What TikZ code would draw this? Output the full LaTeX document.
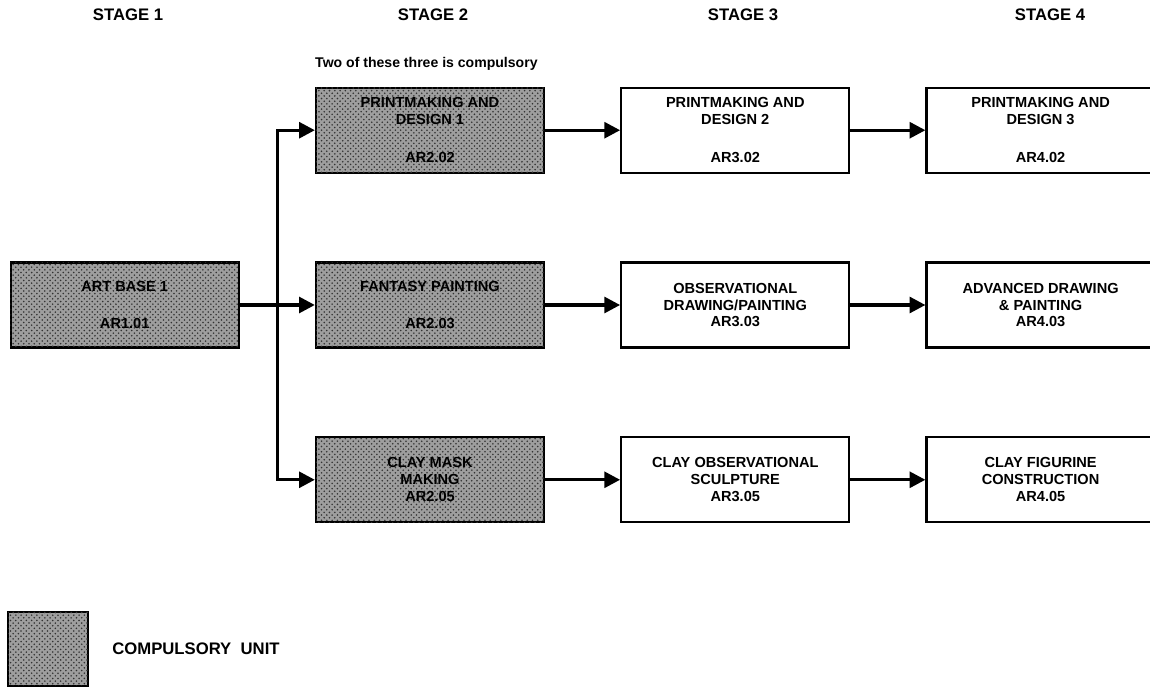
\documentclass[tikz,border=0pt]{standalone}
\usepackage{fontspec}
\setsansfont{Liberation Sans}
\usetikzlibrary{positioning,arrows.meta,patterns,calc}

\begin{document}
\begin{tikzpicture}[
    node distance=1.75cm and 1.5cm,
    box/.style={draw, line width=1.3pt, align=center, minimum width=4.56cm,
      minimum height=1.7cm, font=\sffamily\bfseries\fontsize{8.3}{9.6}\selectfont},
    compbox/.style={box, fill=black!38,
      postaction={pattern=crosshatch dots, pattern color=black!80}},
    stagelbl/.style={font=\sffamily\bfseries\fontsize{9.5}{11}\selectfont},
    link/.style={-{Triangle[length=9pt,width=9pt]}, line width=1.9pt}
  ]
    \useasboundingbox (0,0) rectangle (23,-13.78);

    \node[stagelbl] (stage1) at (2.56,-0.3) {STAGE 1};
    \node[stagelbl] (stage2) at (8.66,-0.3) {STAGE 2};
    \node[stagelbl] (stage3) at (14.86,-0.3) {STAGE 3};
    \node[stagelbl] (stage4) at (21.0,-0.3) {STAGE 4};

    \node[compbox] (fantasy) at (8.6,-6.1) {FANTASY PAINTING\\[0.4cm]AR2.03};
    \node[compbox, above=of fantasy] (print2) {PRINTMAKING AND\\DESIGN 1\\[0.42cm]AR2.02};
    \node[compbox, below=of fantasy] (claymask) {CLAY MASK\\MAKING\\AR2.05};
    \node[compbox, left=of fantasy] (artbase) {ART BASE 1\\[0.4cm]AR1.01};

    \node[box, right=of print2] (print3) {PRINTMAKING AND\\DESIGN 2\\[0.42cm]AR3.02};
    \node[box, right=of fantasy] (observ) {OBSERVATIONAL\\DRAWING/PAINTING\\AR3.03};
    \node[box, right=of claymask] (claysculpt) {CLAY OBSERVATIONAL\\SCULPTURE\\AR3.05};
    \node[box, right=of print3] (print4) {PRINTMAKING AND\\DESIGN 3\\[0.42cm]AR4.02};
    \node[box, right=of observ] (advanced) {ADVANCED DRAWING\\\& PAINTING\\AR4.03};
    \node[box, right=of claysculpt] (figurine) {CLAY FIGURINE\\CONSTRUCTION\\AR4.05};

    \node[font=\sffamily\bfseries\fontsize{8}{9.6}\selectfont, anchor=base west, inner sep=0pt]
      (note) at ([yshift=0.38cm]print2.north west) {Two of these three is compulsory};

    % branch from stage 1
    \coordinate (split) at ($(artbase.east)!0.5!(fantasy.west)$);
    \draw[link] (artbase.east) -- (fantasy.west);
    \draw[link] (split) |- (print2.west);
    \draw[link] (split) |- (claymask.west);

    \draw[link] (print2) -- (print3);
    \draw[link] (print3) -- (print4);
    \draw[link] (fantasy) -- (observ);
    \draw[link] (observ) -- (advanced);
    \draw[link] (claymask) -- (claysculpt);
    \draw[link] (claysculpt) -- (figurine);

    % legend
    \node[compbox, minimum width=1.6cm, minimum height=1.48cm] (legend) at (0.96,-12.98) {};
    \node[stagelbl, anchor=west, right=0.34cm of legend] (legendtxt) {COMPULSORY\ \ UNIT};
  \end{tikzpicture}
\end{document}
